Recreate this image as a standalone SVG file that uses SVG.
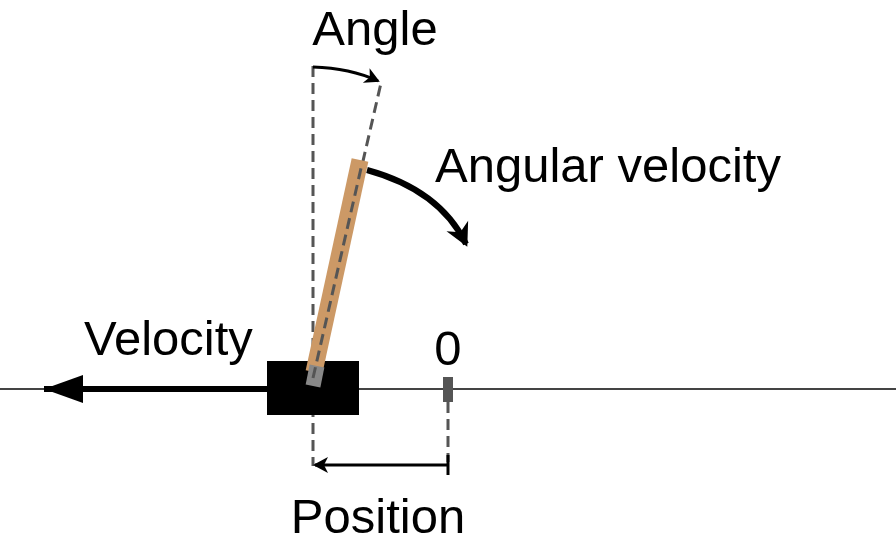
<svg xmlns="http://www.w3.org/2000/svg" width="896" height="549" viewBox="0 0 896 549">
<style>
  text { font-family: "Liberation Sans", Arial, sans-serif; font-size: 49px; fill: #000; }
  .dash { stroke: #555; stroke-width: 3; stroke-dasharray: 11 6; fill: none; }
  .arrow { stroke: #000; fill: none; stroke-linecap: butt; }
</style>
<defs>
  <marker id="head" markerUnits="userSpaceOnUse" viewBox="-16 -10 20 20" markerWidth="20" markerHeight="20" refX="0" refY="0" orient="auto">
    <path d="M2,0 L-13,-8 L-9,0 L-13,8 Z" fill="#000"/>
  </marker>
  <marker id="headBig" markerUnits="userSpaceOnUse" viewBox="-42 -16 44 32" markerWidth="44" markerHeight="32" refX="0" refY="0" orient="auto">
    <path d="M0,0 L-39,-14 L-39,14 Z" fill="#000"/>
  </marker>
  <marker id="headLarge" markerUnits="userSpaceOnUse" viewBox="-26 -14 30 28" markerWidth="30" markerHeight="28" refX="0" refY="0" orient="auto">
    <path d="M3,0 L-20,-12 L-13,0 L-20,12 Z" fill="#000"/>
  </marker>
</defs>

<g id="axis">
  <line x1="0" y1="389" x2="896" y2="389" stroke="#444" stroke-width="2"/>
</g>

<g id="guides">
  <line class="dash" x1="313" y1="66" x2="313" y2="466"/>
  <line class="dash" x1="313" y1="378" x2="381" y2="83"/>
  <line class="dash" x1="448" y1="402" x2="448" y2="462"/>
</g>

<g id="zero-mark">
  <rect x="443" y="377" width="10" height="25" fill="#555"/>
</g>

<g id="cart">
  <rect x="267" y="361" width="92" height="54" fill="#000"/>
</g>

<g id="pole">
  <line x1="314" y1="372" x2="360" y2="160" stroke="#CC9966" stroke-width="17"/>
  <line x1="313" y1="386" x2="317" y2="366" stroke="#888" stroke-width="15"/>
  <line class="dash" x1="313" y1="378" x2="362" y2="164"/>
</g>

<g id="connectors">
  <line class="arrow" x1="268" y1="389" x2="44" y2="389" stroke-width="6" marker-end="url(#headBig)"/>
  <path class="arrow" d="M313,67 Q350,68 378,81" stroke-width="3" marker-end="url(#head)"/>
  <path class="arrow" d="M367,170 Q440,190 466,244" stroke-width="6" marker-end="url(#headLarge)"/>
  <line class="arrow" x1="448" y1="465" x2="315" y2="465" stroke-width="3" marker-end="url(#head)"/>
  <line class="arrow" x1="448" y1="455" x2="448" y2="475" stroke-width="3"/>
</g>

<g id="labels">
  <text x="375" y="45" text-anchor="middle">Angle</text>
  <text x="435" y="182">Angular velocity</text>
  <text x="84" y="355">Velocity</text>
  <text x="448" y="365" text-anchor="middle">0</text>
  <text x="378" y="533" text-anchor="middle">Position</text>
</g>
</svg>
